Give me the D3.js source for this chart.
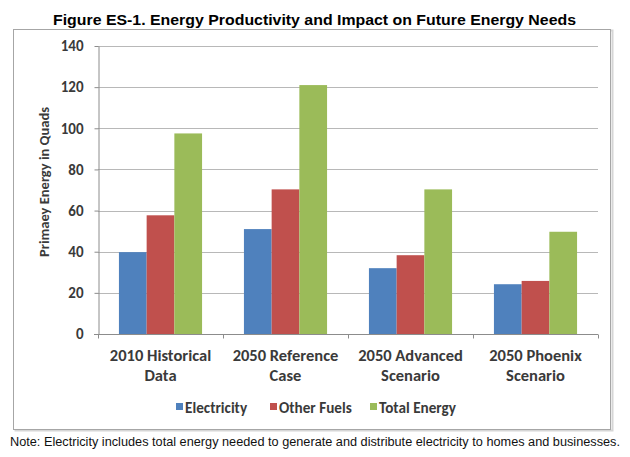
<!DOCTYPE html>
<html>
<head>
<meta charset="utf-8">
<script src="https://cdn.jsdelivr.net/npm/d3@7"></script>
<style>
  html, body { margin: 0; padding: 0; background: #fff; }
  svg { display: block; }
</style>
</head>
<body>
<svg id="chart" width="630" height="457"></svg>
<script>
const categories = [["2010 Historical", "Data"], ["2050 Reference", "Case"], ["2050 Advanced", "Scenario"], ["2050 Phoenix", "Scenario"]];
const seriesNames = ["Electricity", "Other Fuels", "Total Energy"];
const electricity = [39.8, 51, 32, 24.2];
const otherFuels = [57.7, 70.3, 38.3, 25.8];
const totalEnergy = [97.5, 121, 70.3, 49.7];
const yTicks = [0, 20, 40, 60, 80, 100, 120, 140];
const colors = ["#4f81bd", "#c0504d", "#9bbb59"];
const titleText = "Figure ES-1. Energy Productivity and Impact on Future Energy Needs";
const yTitle = "Primaey Energy in Quads";
const noteText = "Note: Electricity includes total energy needed to generate and distribute electricity to homes and businesses.";

(function () {
const series = [electricity, otherFuels, totalEnergy];
const svg = d3.select("#chart");
const calibri = "Carlito, Lato, 'Open Sans', sans-serif";

// chart frame with slight shadow
svg.append("rect").attr("x", 15.5).attr("y", 30.5).attr("width", 597).attr("height", 400)
  .attr("fill", "none").attr("stroke", "#d6d6d6").attr("stroke-width", 2);
svg.append("rect").attr("x", 13.5).attr("y", 29.5).attr("width", 597).attr("height", 400)
  .attr("fill", "#fff").attr("stroke", "#a6a6a6").attr("stroke-width", 1);

// title
svg.append("text").attr("x", 53).attr("y", 24.5)
  .attr("font-family", "'Liberation Sans', Arial, sans-serif").attr("font-weight", "bold")
  .attr("font-size", 15).attr("textLength", 523).attr("lengthAdjust", "spacingAndGlyphs")
  .attr("fill", "#000").text(titleText);

const pLeft = 98, pRight = 598, pTop = 46, pBottom = 334;
const x0 = d3.scaleBand().domain(d3.range(categories.length)).range([pLeft, pRight]).paddingInner(0.335).paddingOuter(0.1675);
const x1 = d3.scaleBand().domain(d3.range(series.length)).range([0, x0.bandwidth()]);
const y = d3.scaleLinear().domain([0, 140]).range([pBottom, pTop]);

// gridlines
svg.append("g").selectAll("line").data(yTicks.filter(d => d > 0)).join("line")
  .attr("x1", pLeft).attr("x2", pRight)
  .attr("y1", d => Math.round(y(d)) + 0.5).attr("y2", d => Math.round(y(d)) + 0.5)
  .attr("stroke", "#b8b8b8").attr("stroke-width", 1);

// y axis
const yAxis = svg.append("g").attr("transform", `translate(${pLeft + 0.5},0)`)
  .call(d3.axisLeft(y).tickValues(yTicks).tickSize(4).tickPadding(11).tickSizeOuter(0));
yAxis.select(".domain").attr("stroke", "#8c8c8c");
yAxis.selectAll(".tick line").attr("stroke", "#8c8c8c");
yAxis.selectAll(".tick text").attr("font-family", calibri).attr("font-weight", "bold")
  .attr("font-size", 15).attr("fill", "#3a3a3a");

// bars
series.forEach((vals, si) => {
  svg.append("g").selectAll("rect").data(vals).join("rect")
    .attr("x", (d, i) => x0(i) + x1(si))
    .attr("width", x1.bandwidth())
    .attr("y", d => y(d))
    .attr("height", d => y(0) - y(d))
    .attr("fill", colors[si]);
});

// x axis
const xAxisG = svg.append("g").attr("transform", `translate(0,${pBottom + 0.5})`);
xAxisG.append("line").attr("x1", pLeft - 4).attr("x2", pRight).attr("stroke", "#8c8c8c");
const boundaries = d3.range(categories.length + 1).map(i => pLeft + i * x0.step());
xAxisG.selectAll("line.t").data(boundaries).join("line").attr("class", "t")
  .attr("x1", d => Math.round(d) + 0.5).attr("x2", d => Math.round(d) + 0.5)
  .attr("y1", 0).attr("y2", 4).attr("stroke", "#8c8c8c");

// category labels
categories.forEach((lines, i) => {
  const cx = x0(i) + x0.bandwidth() / 2;
  const t = svg.append("text").attr("text-anchor", "middle")
    .attr("font-family", calibri).attr("font-weight", "bold").attr("font-size", 16.5)
    .attr("fill", "#3a3a3a");
  lines.forEach((ln, k) => {
    t.append("tspan").attr("x", cx).attr("y", 361 + k * 20).text(ln);
  });
});

// y title
svg.append("text").attr("transform", "translate(49,182) rotate(-90)")
  .attr("text-anchor", "middle").attr("font-family", calibri).attr("font-weight", "600")
  .attr("font-size", 14.5).attr("fill", "#3a3a3a").text(yTitle);

// legend
const legendX = [176, 270, 370];
seriesNames.forEach((name, i) => {
  const g = svg.append("g").attr("transform", `translate(${legendX[i]},403)`);
  g.append("rect").attr("width", 7).attr("height", 7).attr("fill", colors[i]);
  g.append("text").attr("x", 9).attr("y", 9.5).attr("font-family", calibri)
    .attr("font-weight", "bold").attr("font-size", 15.2).attr("fill", "#3a3a3a").text(name);
});

// note
svg.append("text").attr("x", 10).attr("y", 446)
  .attr("font-family", "'Liberation Sans', Arial, sans-serif").attr("font-size", 12.5)
  .attr("textLength", 610).attr("lengthAdjust", "spacingAndGlyphs")
  .attr("fill", "#111").text(noteText);
})();
</script>
</body>
</html>
